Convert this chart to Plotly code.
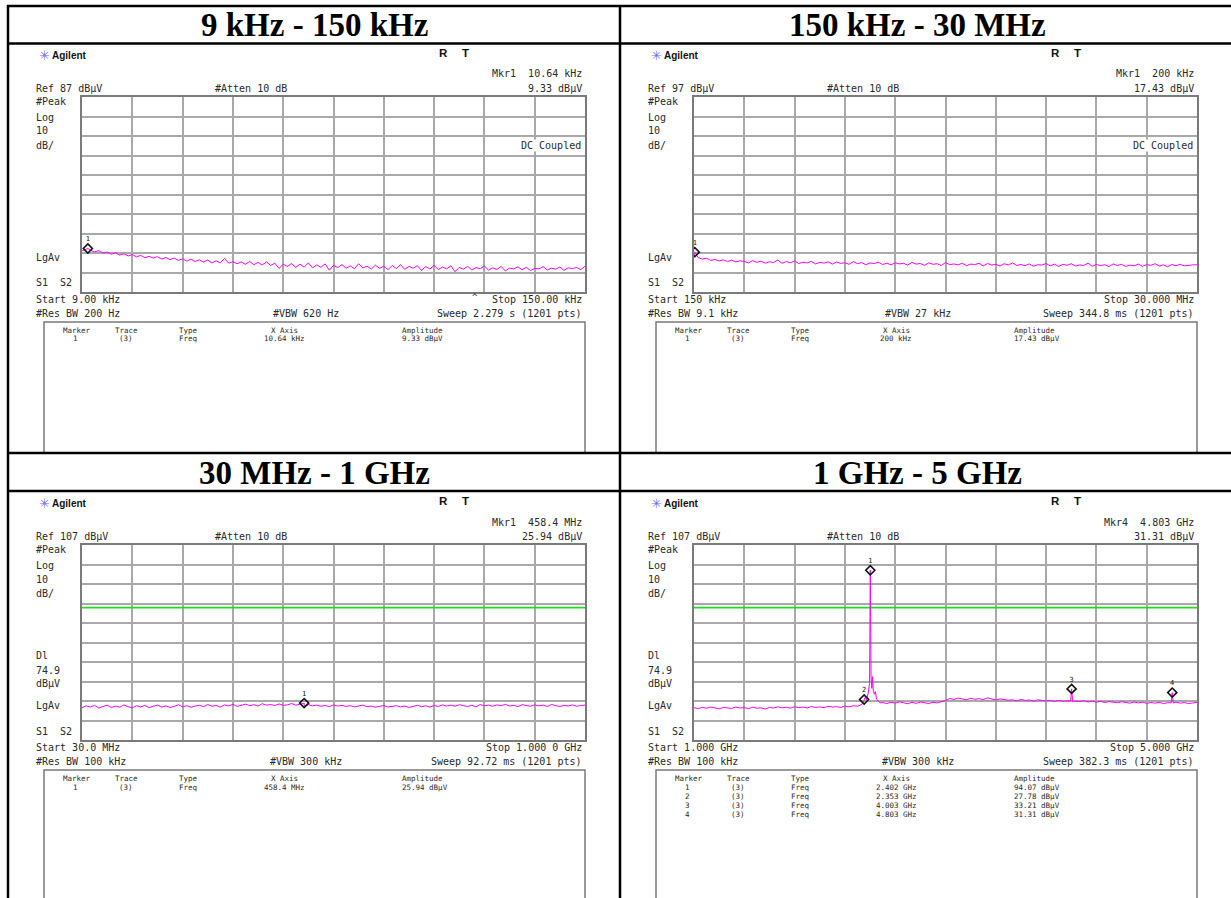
import plotly.graph_objects as go

W, H = 1231, 898
MONO = "DejaVu Sans Mono"
SANS = "Liberation Sans"
SERIF = "Liberation Serif"
TRACE_COLOR = "#ff00ff"
DL_COLOR = "#1fdc1f"
GRID_COLOR = "#a9a9a9"
FRAME_COLOR = "#7a7a7a"
TEXT_COLOR = "#2a2a2a"

# ---------------- data ----------------
HEADERS = ["9 kHz - 150 kHz", "150 kHz - 30 MHz", "30 MHz - 1 GHz", "1 GHz - 5 GHz"]

# 9 kHz - 150 kHz sweep (kHz, dBuV)
TL_START, TL_STOP, TL_REF = 9.0, 150.0, 87
TL_LEVELS = [8.1, 8.9, 8.4, 7.6, 8.2, 7.0, 7.5, 6.4, 7.1, 5.9, 6.6, 5.5, 6.2, 5.0, 5.8, 4.6,
             5.3, 4.4, 5.1, 3.9, 4.7, 3.6, 4.4, 3.2, 4.1, 2.8, 3.9, 2.6, 3.5, 2.3, 3.4, 1.9,
             3.0, 2.0, 4.2, 1.8, 2.6, 1.5, 2.4, 1.2, 2.7, 1.0, 2.2, 0.8, 2.5, 0.6, 1.8, -0.9,
             1.2, 0.1, 1.6, -0.4, 1.3, -0.2, 1.9, -0.6, 0.9, -0.3, 1.4, -1.8, 0.7, -0.5, 1.1,
             -0.8, 0.4, -1.1, 1.5, -0.7, 0.3, -1.3, 0.8, -0.9, 0.2, -1.6, 0.6, -1.0, 1.0, -1.4,
             0.1, -0.8, 0.5, -1.9, 0.0, -1.2, 0.7, -1.5, -0.2, -1.1, 0.4, -2.6, -0.4, -1.3, 0.2,
             -1.7, -0.5, -1.0, 0.3, -1.8, -0.6, -1.4, 0.1, -2.2, -0.7, -1.2, -0.1, -1.6, -0.3,
             -2.0, -0.9, -1.1, 0.0, -1.7, -0.8, -1.3, -0.2, -1.9, -0.6, -1.0, -0.4, -1.5, 0.2]
TL_MKR_F = [10.64]
TL_MKR_A = [9.33]

# 150 kHz - 30 MHz sweep (MHz, dBuV)
TR_START, TR_STOP, TR_REF = 0.15, 30.0, 97
TR_LEVELS = [15.8, 14.6, 13.9, 14.3, 13.2, 13.7, 12.9, 13.5, 12.6, 13.3, 12.4, 13.0, 12.7, 11.9,
             13.1, 12.2, 12.8, 11.8, 12.5, 12.1, 13.4, 11.7, 12.6, 12.0, 12.9, 11.6, 12.3, 11.9,
             12.7, 11.4, 12.2, 11.8, 12.5, 11.3, 12.4, 11.7, 12.0, 11.2, 12.6, 11.5, 12.1, 11.0,
             11.9, 11.6, 12.3, 11.1, 11.8, 10.9, 12.0, 11.4, 11.7, 10.8, 12.2, 11.3, 11.6, 10.7,
             11.9, 11.2, 11.5, 10.6, 12.1, 11.0, 11.4, 10.9, 11.8, 10.5, 11.3, 11.1, 11.7, 10.4,
             11.6, 10.8, 11.2, 10.3, 11.5, 10.9, 11.9, 10.6, 11.1, 10.5, 11.4, 10.2, 11.0, 10.8,
             11.6, 10.4, 11.3, 10.1, 11.2, 10.7, 11.5, 10.3, 10.9, 10.6, 11.8, 10.2, 11.1, 10.5,
             11.0, 10.0, 11.4, 10.6, 11.2, 10.1, 10.8, 10.4, 11.3, 10.2, 11.0, 10.7, 11.5, 10.3,
             10.9, 10.0, 11.1, 10.5, 11.2, 10.4, 10.8, 10.9, 11.0]
TR_MKR_F = [0.2]
TR_MKR_A = [17.43]

# 30 MHz - 1 GHz sweep (MHz, dBuV)
BL_START, BL_STOP, BL_REF, BL_DL = 30.0, 1000.0, 107, 74.9
BL_LEVELS = [23.6, 24.5, 23.9, 24.8, 23.4, 24.2, 24.9, 23.7, 24.4, 23.8, 25.0, 24.1, 23.5, 24.6,
             24.0, 24.7, 23.6, 24.3, 24.9, 23.9, 24.5, 23.7, 24.2, 25.1, 24.0, 24.6, 23.8, 24.4,
             24.8, 24.1, 25.2, 24.3, 24.7, 23.9, 25.0, 24.5, 25.3, 24.2, 24.8, 25.4, 24.6, 25.1,
             24.4, 25.6, 24.9, 25.2, 24.7, 25.5, 24.8, 25.0, 25.7, 24.9, 25.3, 24.6, 25.1, 24.5,
             24.9, 24.3, 24.7, 24.1, 25.0, 24.4, 24.8, 24.2, 24.6, 24.0, 24.5, 24.9, 24.1, 24.4,
             23.8, 24.3, 24.7, 23.9, 24.2, 24.6, 24.0, 24.4, 23.7, 24.3, 24.8, 24.1, 24.5, 23.9,
             24.7, 24.2, 25.0, 24.4, 24.9, 24.3, 25.1, 24.6, 24.2, 24.8, 24.0, 25.2, 24.5, 24.9,
             24.3, 25.0, 24.6, 25.3, 24.4, 24.8, 24.1, 25.1, 24.7, 24.3, 25.0, 24.5, 24.9, 24.2,
             25.2, 24.6, 24.1, 24.8, 24.4, 25.0, 24.3, 24.7, 24.9]
BL_MKR_F = [458.4]
BL_MKR_A = [25.94]

# 1 GHz - 5 GHz sweep (GHz, dBuV)
BR_START, BR_STOP, BR_REF, BR_DL = 1.0, 5.0, 107, 74.9
BR_LEVELS = [23.6, 23.1, 23.8, 23.3, 23.9, 23.4, 23.0, 23.7, 23.5, 23.2, 23.9, 23.4, 23.6, 23.1,
             23.8, 23.3, 23.5, 22.9, 23.7, 23.4, 24.0, 23.5, 23.8, 23.3, 24.1, 23.6, 23.9, 23.4,
             24.2, 23.7, 24.0, 23.6, 24.3, 23.9, 24.1, 23.7, 24.4, 24.0, 24.6, 24.3,
             25.0, 26.0, 26.5, 26.0, 26.5,
             26.2, 25.7, 26.4, 25.9, 26.6, 26.0, 25.6, 26.3, 25.8, 26.5, 26.1, 25.7, 26.4, 26.0,
             26.6,
             27.2, 28.3, 27.8, 28.5, 28.0, 27.6, 28.4, 27.9, 28.2, 27.7, 28.6, 28.0, 27.5, 28.1,
             27.8, 27.4,
             27.6, 27.1, 27.8, 27.3, 27.5, 26.9, 27.6, 27.2, 27.0, 27.4, 26.8, 27.3, 26.9, 27.1,
             26.6, 27.0, 26.7, 27.2, 26.5, 26.9, 26.4, 26.8, 26.2, 26.7, 26.5, 26.1, 26.6, 26.3,
             25.9, 26.5, 26.0, 26.4, 25.8, 26.2, 25.9, 26.3, 25.7, 26.1, 25.8, 26.4, 25.9, 26.2,
             25.7, 26.0, 26.3]
# emissions around the carrier and its harmonics (GHz, dBuV)
BR_SPUR_F = [[2.320, 2.335, 2.345, 2.362, 2.372, 2.385, 2.396, 2.408, 2.414, 2.420, 2.426,
              2.434, 2.442, 2.452, 2.465, 2.480],
             [3.995, 4.011],
             [4.795, 4.811]]
BR_SPUR_A = [[24.8, 25.3, 26.4, 28.9, 27.5, 31.0, 36.0, 40.0, 33.5, 39.5, 32.0,
              30.5, 31.8, 27.9, 26.8, 26.1],
             [27.0, 26.8],
             [26.1, 26.0]]
BR_MKR_F = [2.402, 2.353, 4.003, 4.803]
BR_MKR_A = [94.07, 27.78, 33.21, 31.31]

UNITS = ["kHz", "MHz", "MHz", "GHz"]
START_LBL = ["Start 9.00 kHz", "Start 150 kHz", "Start 30.0 MHz", "Start 1.000 GHz"]
STOP_LBL = ["Stop 150.00 kHz", "Stop 30.000 MHz", "Stop 1.000 0 GHz", "Stop 5.000 GHz"]
RBW_LBL = ["#Res BW 200 Hz", "#Res BW 9.1 kHz", "#Res BW 100 kHz", "#Res BW 100 kHz"]
VBW_LBL = ["#VBW 620 Hz", "#VBW 27 kHz", "#VBW 300 kHz", "#VBW 300 kHz"]
SWEEP_LBL = ["Sweep 2.279 s (1201 pts)", "Sweep 344.8 ms (1201 pts)",
             "Sweep 92.72 ms (1201 pts)", "Sweep 382.3 ms (1201 pts)"]

# ---------------- helpers ----------------
def px(x):
    return x / W


def py(y):
    return 1 - y / H


def sweep_points(start, stop, levels):
    step = (stop - start) / (len(levels) - 1)
    return [start + k * step for k in range(len(levels))], list(levels)


def build_trace(start, stop, levels, mkr_f, mkr_a, spur_f=(), spur_a=()):
    fx, fy = sweep_points(start, stop, levels)
    pts = list(zip(fx, fy))
    for cf, ca in zip(spur_f, spur_a):
        lo, hi = min(cf), max(cf)
        pts = [p for p in pts if not (lo <= p[0] <= hi)]
        pts += list(zip(cf, ca))
    pts += list(zip(mkr_f, mkr_a))
    pts.sort()
    return [p[0] for p in pts], [p[1] for p in pts]


annotations = []
shapes = []


def label(x, y, s, size=10, anchor="left", color=TEXT_COLOR, family=MONO, bg=None):
    a = dict(x=px(x), y=py(y), xref="paper", yref="paper", text=s,
             showarrow=False, xanchor=anchor, yanchor="middle",
             font=dict(family=family, size=size, color=color))
    if bg:
        a.update(bgcolor=bg, borderpad=0)
    annotations.append(a)


def line(x0, y0, x1, y1, color="black", width=2.5):
    shapes.append(dict(type="line", xref="paper", yref="paper", x0=px(x0), y0=py(y0),
                       x1=px(x1), y1=py(y1), line=dict(color=color, width=width)))


fig = go.Figure()

panels = [
    dict(start=TL_START, stop=TL_STOP, ref=TL_REF, lv=TL_LEVELS, mf=TL_MKR_F, ma=TL_MKR_A,
         dl=None, dx=0, dy=0, coupled=True),
    dict(start=TR_START, stop=TR_STOP, ref=TR_REF, lv=TR_LEVELS, mf=TR_MKR_F, ma=TR_MKR_A,
         dl=None, dx=612, dy=0, coupled=True),
    dict(start=BL_START, stop=BL_STOP, ref=BL_REF, lv=BL_LEVELS, mf=BL_MKR_F, ma=BL_MKR_A,
         dl=BL_DL, dx=0, dy=448, coupled=False),
    dict(start=BR_START, stop=BR_STOP, ref=BR_REF, lv=BR_LEVELS, mf=BR_MKR_F, ma=BR_MKR_A,
         dl=BR_DL, dx=612, dy=448, coupled=False, sf=BR_SPUR_F, sa=BR_SPUR_A),
]


def fmt_freq(f, unit):
    if unit == "kHz" and f < 100 and f != int(f):
        return f"{f:.2f} kHz"
    if unit == "MHz" and f < 1:
        return f"{f * 1000:.0f} kHz"
    if unit == "MHz":
        return f"{f:.1f} MHz"
    return f"{f:.3f} GHz"


for i, p in enumerate(panels):
    n = "" if i == 0 else str(i + 1)
    dx, dy = p["dx"], p["dy"]
    unit = UNITS[i]
    fig.update_layout(**{
        f"xaxis{n}": dict(domain=[px(82 + dx), px(585 + dx)], range=[p["start"], p["stop"]],
                          tick0=p["start"], dtick=(p["stop"] - p["start"]) / 10,
                          showticklabels=False, ticks="", showgrid=True, gridcolor=GRID_COLOR,
                          gridwidth=1.5, zeroline=False, showline=True, mirror=True,
                          linecolor=FRAME_COLOR, linewidth=1.5, anchor=f"y{n}", fixedrange=True),
        f"yaxis{n}": dict(domain=[py(292 + dy), py(97 + dy)], range=[p["ref"] - 100, p["ref"]],
                          tick0=p["ref"], dtick=10, showticklabels=False, ticks="",
                          showgrid=True, gridcolor=GRID_COLOR, gridwidth=1.5, zeroline=False,
                          showline=True, mirror=True, linecolor=FRAME_COLOR, linewidth=1.5,
                          anchor=f"x{n}", fixedrange=True),
    })
    xr, yr = f"x{n}", f"y{n}"

    if p["dl"] is not None:
        fig.add_trace(go.Scatter(x=[p["start"], p["stop"]], y=[p["dl"], p["dl"]], mode="lines",
                                 line=dict(color=DL_COLOR, width=1.6), xaxis=xr, yaxis=yr,
                                 hoverinfo="skip", showlegend=False))

    tx, ty = build_trace(p["start"], p["stop"], p["lv"], p["mf"], p["ma"],
                         p.get("sf", ()), p.get("sa", ()))
    fig.add_trace(go.Scatter(x=tx, y=ty, mode="lines", line=dict(color=TRACE_COLOR, width=1),
                             xaxis=xr, yaxis=yr, showlegend=False))

    fig.add_trace(go.Scatter(x=p["mf"], y=p["ma"], mode="markers+text",
                             text=[str(k + 1) for k in range(len(p["mf"]))],
                             textposition="top center",
                             textfont=dict(family=MONO, size=7, color="#111"),
                             marker=dict(symbol="diamond-open", size=7, color="#111",
                                         line=dict(width=1.6, color="#111")),
                             xaxis=xr, yaxis=yr, showlegend=False))

    # analyser annotation text
    label(37 + dx, 55 + dy, "✳", size=13, color="#6f6fff", family="DejaVu Sans")
    label(50 + dx, 55 + dy, "<b>Agilent</b>", size=10, color="#111", family=SANS)
    label(437 + dx, 53 + dy, "<b>R</b>", size=11.5, color="#111", family=SANS)
    label(460 + dx, 53 + dy, "<b>T</b>", size=11.5, color="#111", family=SANS)

    last = len(p["mf"]) - 1
    label(584 + dx, 74 + dy, f"Mkr{last + 1}  {fmt_freq(p['mf'][last], unit)}", anchor="right")
    label(34 + dx, 88 + dy, f"Ref {p['ref']} dBµV")
    label(213 + dx, 88 + dy, "#Atten 10 dB")
    label(584 + dx, 88 + dy, f"{p['ma'][last]:.2f} dBµV", anchor="right")
    label(34 + dx, 101 + dy, "#Peak")
    label(34 + dx, 117 + dy, "Log")
    label(34 + dx, 131 + dy, "10")
    label(34 + dx, 145 + dy, "dB/")
    if p["coupled"]:
        label(582 + dx, 145 + dy, "DC Coupled", anchor="right", bg="white")
    if p["dl"] is not None:
        label(34 + dx, 655 - 448 + dy, "Dl")
        label(34 + dx, 670 - 448 + dy, f"{p['dl']}")
        label(34 + dx, 683 - 448 + dy, "dBµV")
    label(34 + dx, 257 + dy, "LgAv")
    label(34 + dx, 283 + dy, "S1  S2")
    label(34 + dx, 299 + dy, START_LBL[i])
    label(584 + dx, 299 + dy, STOP_LBL[i], anchor="right")
    label(34 + dx, 313 + dy, RBW_LBL[i])
    label(306 + dx, 313 + dy, VBW_LBL[i], anchor="center")
    label(584 + dx, 313 + dy, SWEEP_LBL[i], anchor="right")
    if i == 0:
        label(470 + dx, 297 + dy, "^", size=9)

    # marker table
    box_bottom = 453 if dy == 0 else 905
    shapes.append(dict(type="rect", xref="paper", yref="paper", x0=px(44 + dx), x1=px(585 + dx),
                       y0=py(box_bottom), y1=py(322 + dy),
                       line=dict(color=FRAME_COLOR, width=1.5), fillcolor="rgba(0,0,0,0)"))
    ts = 7.5
    label(77 + dx, 330 + dy, "Marker", size=ts, anchor="center")
    label(126 + dx, 330 + dy, "Trace", size=ts, anchor="center")
    label(177 + dx, 330 + dy, "Type", size=ts)
    label(284 + dx, 330 + dy, "X Axis", size=ts, anchor="center")
    label(400 + dx, 330 + dy, "Amplitude", size=ts)
    for k, (f, a) in enumerate(zip(p["mf"], p["ma"])):
        yy = 339 + 9 * k + dy
        label(75 + dx, yy, str(k + 1), size=ts, anchor="center")
        label(126 + dx, yy, "(3)", size=ts, anchor="center")
        label(177 + dx, yy, "Freq", size=ts)
        label(284 + dx, yy, fmt_freq(f, unit), size=ts, anchor="center")
        label(400 + dx, yy, f"{a:.2f} dBµV", size=ts)

# table frame and section headers
line(7, 6, 1240, 6)
line(7, 43.5, 1240, 43.5)
line(7, 453, 1240, 453)
line(7, 491, 1240, 491)
line(8, 5, 8, 905)
line(620, 5, 620, 905)
for hx, hy, s in [(314, 25, HEADERS[0]), (917, 25, HEADERS[1]),
                  (314, 473, HEADERS[2]), (917, 473, HEADERS[3])]:
    label(hx, hy, f"<b>{s}</b>", size=33, anchor="center", color="black", family=SERIF)

fig.update_layout(width=W, height=H, margin=dict(l=0, r=0, t=0, b=0),
                  paper_bgcolor="white", plot_bgcolor="white",
                  annotations=annotations, shapes=shapes, showlegend=False)

fig.write_html("out.html")
